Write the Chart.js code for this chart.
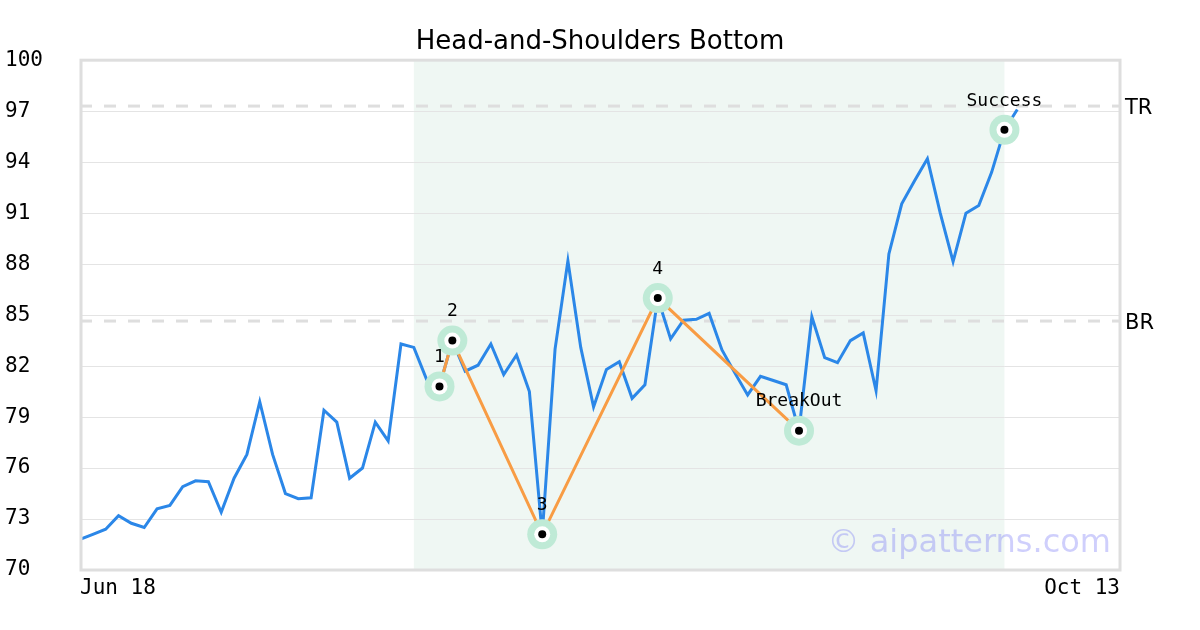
<!DOCTYPE html>
<html>
<head>
<meta charset="utf-8">
<script src="https://cdn.jsdelivr.net/npm/chart.js@4"></script>
<style>
  html, body { margin: 0; padding: 0; background: #fff; }
  #wrap { width: 1200px; height: 630px; }
</style>
</head>
<body>
<div id="wrap"><canvas id="chart" width="1200" height="630"></canvas></div>
<script>
// Price series (one value per bar)
const prices = [
    71.8, 72.1, 72.4, 73.2, 72.75, 72.5, 73.6, 73.8, 74.9, 75.25,
    75.2, 73.4, 75.4, 76.8, 79.9, 76.8, 74.5, 74.2, 74.25, 79.4,
    78.7, 75.4, 76.0, 78.7, 77.6, 83.3, 83.1, 81.2, 80.8, 83.5,
    81.7, 82.05, 83.3, 81.5, 82.65, 80.5, 72.1, 83.0, 88.2, 83.1,
    79.6, 81.8, 82.25, 80.1, 80.9, 86.0, 83.6, 84.7, 84.75, 85.1,
    82.95, 81.6, 80.3, 81.4, 81.15, 80.9, 78.2, 84.9, 82.5, 82.2,
    83.5, 83.95, 80.55, 88.6, 91.55, 92.9, 94.2, 91.0, 88.15, 91.0,
    91.45, 93.4, 95.9, 97.1
];

// Pattern points (index in prices) and their labels
const patternIdx = [28, 29, 36, 45, 56, 72];
const patternLabels = ['1', '2', '3', '4', 'BreakOut', 'Success'];
const patternLineCount = 5; // orange line joins 1..BreakOut

// Pattern zone (start / end index)
const zoneIdx = [26, 72];

// Horizontal levels
const levelNames = ['TR', 'BR'];
const levelValues = [97.3, 84.65];

// Axes
const xTickValues = [0, 81];
const xTickLabels = ['Jun 18', 'Oct 13'];
const yMin = 70, yMax = 100, yStep = 3;

const priceData = prices.map((v, i) => ({ x: i, y: v }));
const markerData = patternIdx.map(i => ({ x: i, y: prices[i] }));
const patternLine = markerData.slice(0, patternLineCount);

// Shaded zone, dashed levels, labels, border, watermark
const overlayPlugin = {
    id: 'overlay',
    beforeDatasetsDraw(chart) {
        const { ctx, chartArea: a, scales: { x, y } } = chart;
        ctx.save();
        // zone
        ctx.fillStyle = '#eff7f3';
        const x0 = x.getPixelForValue(zoneIdx[0]);
        const x1 = x.getPixelForValue(zoneIdx[1]);
        ctx.fillRect(x0, a.top, x1 - x0, a.bottom - a.top);
        // grid lines again over the zone
        ctx.strokeStyle = '#e4e4e4';
        ctx.lineWidth = 1;
        for (let v = yMin + yStep; v < yMax; v += yStep) {
            const py = Math.round(y.getPixelForValue(v)) + 0.5;
            ctx.beginPath();
            ctx.moveTo(x0, py);
            ctx.lineTo(x1, py);
            ctx.stroke();
        }
        // levels
        ctx.strokeStyle = '#dedede';
        ctx.lineWidth = 3;
        ctx.setLineDash([12, 12]);
        levelValues.forEach((v, i) => {
            const py = y.getPixelForValue(v);
            ctx.beginPath();
            ctx.moveTo(a.left, py);
            ctx.lineTo(a.right, py);
            ctx.stroke();
            ctx.fillStyle = '#000';
            ctx.font = '21px "DejaVu Sans"';
            ctx.textAlign = 'left';
            ctx.textBaseline = 'middle';
            ctx.fillText(levelNames[i], a.right + 5, py + 2);
        });
        ctx.restore();
    },
    afterDatasetsDraw(chart) {
        const { ctx, chartArea: a, scales: { x, y } } = chart;
        ctx.save();
        // point labels
        ctx.fillStyle = '#000';
        ctx.font = '18px "DejaVu Sans Mono"';
        ctx.textAlign = 'center';
        ctx.textBaseline = 'middle';
        markerData.forEach((p, i) => {
            ctx.fillText(patternLabels[i], x.getPixelForValue(p.x), y.getPixelForValue(p.y) - 29);
        });
        // plot border
        ctx.strokeStyle = '#dedede';
        ctx.lineWidth = 3;
        ctx.strokeRect(a.left + 1, a.top, a.right - a.left - 1, a.bottom - a.top);
        // watermark
        ctx.fillStyle = 'rgba(110, 110, 245, 0.33)';
        ctx.font = '32px "DejaVu Sans"';
        ctx.textAlign = 'right';
        ctx.textBaseline = 'alphabetic';
        ctx.fillText('© aipatterns.com', a.right - 9, a.bottom - 18);
        ctx.restore();
    }
};

const ctx = document.getElementById('chart').getContext('2d');
new Chart(ctx, {
    type: 'line',
    data: {
        datasets: [
            {
                data: priceData,
                borderColor: '#2b87e8',
                borderWidth: 3,
                pointRadius: 0,
                tension: 0,
                order: 5
            },
            {
                data: patternLine,
                borderColor: '#f89c44',
                borderWidth: 3,
                pointRadius: 0,
                tension: 0,
                order: 4
            },
            {
                data: markerData,
                showLine: false,
                pointRadius: 15,
                pointBackgroundColor: '#bfead6',
                pointBorderWidth: 0,
                order: 3
            },
            {
                data: markerData,
                showLine: false,
                pointRadius: 8,
                pointBackgroundColor: '#ffffff',
                pointBorderWidth: 0,
                order: 2
            },
            {
                data: markerData,
                showLine: false,
                pointRadius: 4,
                pointBackgroundColor: '#000000',
                pointBorderWidth: 0,
                order: 1
            }
        ]
    },
    options: {
        responsive: false,
        animation: false,
        layout: { padding: { left: 5, right: 5, top: 0, bottom: 0 } },
        plugins: {
            legend: { display: false },
            tooltip: { enabled: false },
            title: {
                display: true,
                text: 'Head-and-Shoulders Bottom',
                color: '#000',
                font: { family: '"DejaVu Sans"', size: 26, weight: 'normal' },
                padding: { top: 27, bottom: 2 }
            }
        },
        scales: {
            x: {
                type: 'linear',
                min: 0,
                max: 81,
                grid: { display: false, drawTicks: false },
                border: { display: false },
                afterBuildTicks: axis => { axis.ticks = xTickValues.map(v => ({ value: v })); },
                afterFit: axis => { axis.height = 60; },
                ticks: {
                    autoSkip: false,
                    maxRotation: 0,
                    align: 'inner',
                    padding: 6,
                    color: '#000',
                    font: { family: '"DejaVu Sans Mono"', size: 21 },
                    callback: v => xTickLabels[xTickValues.indexOf(v)]
                }
            },
            y: {
                min: yMin,
                max: yMax,
                grid: { color: '#e4e4e4', drawTicks: false },
                border: { display: false },
                afterFit: axis => { axis.width = 75; },
                ticks: {
                    stepSize: yStep,
                    crossAlign: 'far',
                    color: '#000',
                    font: { family: '"DejaVu Sans Mono"', size: 21 }
                }
            },
            // empty right axis, keeps room for the TR / BR labels
            yRight: {
                position: 'right',
                min: yMin,
                max: yMax,
                grid: { display: false, drawTicks: false },
                border: { display: false },
                ticks: { display: false },
                afterFit: axis => { axis.width = 75; }
            }
        }
    },
    plugins: [overlayPlugin]
});
</script>
</body>
</html>
